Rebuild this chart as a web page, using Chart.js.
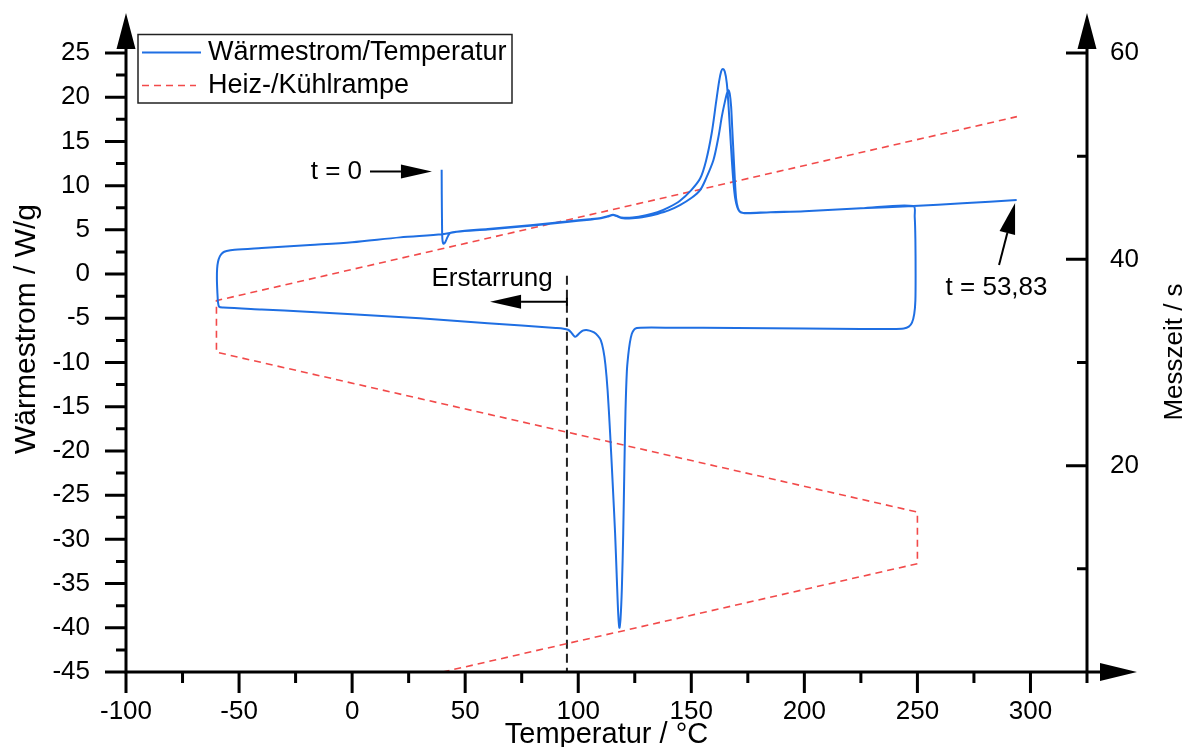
<!DOCTYPE html>
<html>
<head>
<meta charset="utf-8">
<script src="https://cdn.jsdelivr.net/npm/chart.js@4.4.1/dist/chart.umd.min.js"></script>
<style>
  html, body { margin: 0; padding: 0; background: #fff; }
  #wrap { width: 1191px; height: 747px; }
</style>
</head>
<body>
<div id="wrap"><canvas id="dsc" width="1191" height="747"></canvas></div>
<script>
// First heating run, starting at t = 0 (about 40 °C)
const heat1Temp = [39.6, 39.65, 39.75, 39.9, 40.3, 40.9, 41.7, 42.6, 43.6, 46.3, 60, 80, 95, 105, 110, 113, 115.4, 117, 119, 124,
  130, 135, 140, 145, 150, 153.9, 156.5, 159, 161, 162.3, 163.2, 163.9, 164.8, 165.7, 166.5, 167.2, 168.0, 168.7, 169.4, 170.3,
  171.3, 172.5, 175, 185, 200, 225, 248.2];
const heat1Flow = [11.8, 9.0, 6.0, 4.0, 3.45, 3.5, 3.9, 4.4, 4.68, 4.8, 5.1, 5.55, 5.95, 6.2, 6.35, 6.55, 6.72, 6.6, 6.4, 6.4,
  6.65, 7.0, 7.55, 8.3, 9.5, 10.8, 12.8, 15.9, 19.5, 21.8, 22.9, 23.2, 22.9, 21.6, 18.9, 15.9, 12.6, 10.2, 8.6, 7.6,
  7.1, 6.92, 6.9, 7.0, 7.1, 7.43, 7.7];

// Cooling run from 250 °C down to -60 °C, incl. the isothermal hold
const coolTemp = [248.8, 249.1, 249.2, 249.1, 248.6, 247.6, 246.2, 244, 238, 225, 200, 170, 140, 127.5, 125.9, 124.8, 123.7,
  122.8, 122.1, 121.5, 120.9, 120.4, 119.9, 119.3, 118.7, 118.2, 117.7, 117.0, 116.3, 115.2, 114.1, 113.0, 112.0, 111.1,
  110.0, 108.7, 107, 105, 103.5, 102, 100.5, 99.3, 98.6, 97.8, 96.7, 95.5, 93.5, 90, 60, 30, 0, -20, -40, -57, -58.8,
  -59.3, -59.6, -59.8, -59.7, -59.3, -58.5, -57.3, -55.5, -52];
const coolFlow = [6.5, 4.0, 0, -3.0, -4.5, -5.5, -5.95, -6.15, -6.2, -6.2, -6.15, -6.1, -6.06, -6.06, -6.1, -6.25, -6.75,
  -7.8, -9.2, -11.0, -15.5, -22, -29.3, -35.5, -39.0, -40.0, -38.5, -34.0, -29.3, -23.5, -18.0, -13.2, -10.2, -8.6,
  -7.5, -7.0, -6.6, -6.4, -6.33, -6.4, -6.7, -7.0, -7.08, -6.9, -6.55, -6.3, -6.18, -6.1, -5.55, -5.0, -4.55, -4.25, -4.0, -3.78, -3.7,
  -3.2, -2.0, -0.5, 0.6, 1.4, 2.0, 2.4, 2.6, 2.75];

// Second heating run from -60 °C up to the end of the measurement
const heat2Temp = [-40, -18.6, 0, 21.2, 40, 46.3, 60, 80, 95, 105, 110, 113, 115.4, 117, 119, 124, 130, 135, 140, 145, 150,
  153.9, 156.5, 159.8, 162, 163.5, 164.7, 165.7, 166.4, 167, 167.6, 168.1, 168.6, 169.2, 169.8, 170.6, 171.6, 173, 175,
  185, 200, 225, 248.2, 270, 293.9];
const heat2Flow = [2.95, 3.29, 3.6, 4.15, 4.5, 4.78, 5.05, 5.5, 5.9, 6.15, 6.3, 6.5, 6.68, 6.55, 6.35, 6.3, 6.5, 6.8, 7.2, 7.8, 8.6,
  9.5, 10.8, 12.9, 15.5, 17.8, 19.3, 20.4, 20.8, 20.4, 19.0, 16.5, 14.0, 11.0, 8.6, 7.5, 7.05, 6.9, 6.88,
  6.98, 7.1, 7.43, 7.7, 8.0, 8.38];

// Temperature programme: furnace temperature against measuring time
const rampTemp = [40, 250, 250, -60, -60, 294];
const rampTime = [0, 10.5, 15.5, 31, 36, 53.83];

// Solidification marker
const solidTemp = [95, 95];
const solidFlow = [-0.2, -45];

// Tick labels
const tempTicks = [-100, -50, 0, 50, 100, 150, 200, 250, 300];
const flowTicks = [-45, -40, -35, -30, -25, -20, -15, -10, -5, 0, 5, 10, 15, 20, 25];
const timeTicks = [20, 40, 60];

const FONT = "'Liberation Sans', Arial, Helvetica, sans-serif";
const BLUE = '#1f6fe3';
const RED = '#f24a4a';

const toPoints = (xs, ys) => xs.map((v, i) => ({ x: v, y: ys[i] }));
const flowPoints = [
  ...toPoints(heat1Temp, heat1Flow),
  ...toPoints(coolTemp, coolFlow),
  ...toPoints(heat2Temp, heat2Flow)
];

// Text annotations, anchored in data units
const notes = {
  start:  { text: 't = 0', x: 4.4, y: 11.55, tail: [7.9, 11.6], tip: [35.3, 11.6] },
  end:    { text: 't = 53,83', x: 285.0, y: -1.6, tail: [286.1, 1.03], tip: [293.2, 8.04] },
  solid:  { text: 'Erstarrung', x: 61.9, y: -0.55, tail: [95, -3.13], tip: [61.0, -3.13] }
};

function arrow(ctx, x1, y1, x2, y2, len, half) {
  const ang = Math.atan2(y2 - y1, x2 - x1);
  const bx = x2 - Math.cos(ang) * len, by = y2 - Math.sin(ang) * len;
  ctx.beginPath();
  ctx.moveTo(x1, y1);
  ctx.lineTo(bx, by);
  ctx.stroke();
  ctx.beginPath();
  ctx.moveTo(x2, y2);
  ctx.lineTo(bx + Math.sin(ang) * half, by - Math.cos(ang) * half);
  ctx.lineTo(bx - Math.sin(ang) * half, by + Math.cos(ang) * half);
  ctx.closePath();
  ctx.fill();
}

const decor = {
  id: 'decor',
  afterDraw(chart) {
    const { ctx, chartArea: a, scales } = chart;
    const { x, y, y2 } = scales;
    const L = a.left, R = a.right, B = a.bottom, T = a.top;
    ctx.save();
    ctx.strokeStyle = '#000';
    ctx.fillStyle = '#000';

    // axis lines
    ctx.lineWidth = 3;
    ctx.beginPath();
    ctx.moveTo(L, B + 1.5); ctx.lineTo(L, T - 6);
    ctx.moveTo(R, B + 1.5); ctx.lineTo(R, T - 6);
    ctx.moveTo(L - 1.5, B); ctx.lineTo(R + 16, B);
    ctx.stroke();

    // arrow heads at the axis ends
    ctx.beginPath();
    ctx.moveTo(L, T - 40); ctx.lineTo(L - 9.5, T - 4); ctx.lineTo(L + 9.5, T - 4); ctx.closePath();
    ctx.moveTo(R, T - 40); ctx.lineTo(R - 9.5, T - 4); ctx.lineTo(R + 9.5, T - 4); ctx.closePath();
    ctx.moveTo(R + 50, B); ctx.lineTo(R + 13, B - 9); ctx.lineTo(R + 13, B + 9); ctx.closePath();
    ctx.fill();

    // tick marks
    ctx.lineWidth = 3;
    ctx.beginPath();
    tempTicks.forEach(v => { const p = x.getPixelForValue(v); ctx.moveTo(p, B); ctx.lineTo(p, B + 21); });
    for (let v = x.min + 25; v <= x.max + 0.01; v += 50) {
      const p = x.getPixelForValue(v); ctx.moveTo(p, B); ctx.lineTo(p, B + 11);
    }
    flowTicks.forEach(v => { const p = y.getPixelForValue(v); ctx.moveTo(L - 21, p); ctx.lineTo(L, p); });
    for (let v = y.min + 2.5; v < y.max; v += 5) {
      const p = y.getPixelForValue(v); ctx.moveTo(L - 10, p); ctx.lineTo(L, p);
    }
    timeTicks.forEach(v => { const p = y2.getPixelForValue(v); ctx.moveTo(R - 21, p); ctx.lineTo(R, p); });
    for (let v = y2.min + 10; v < y2.max; v += 20) {
      const p = y2.getPixelForValue(v); ctx.moveTo(R - 10, p); ctx.lineTo(R, p);
    }
    ctx.stroke();

    // axis titles
    ctx.textAlign = 'center';
    ctx.textBaseline = 'middle';
    ctx.font = `29px ${FONT}`;
    ctx.fillText('Temperatur / °C', (L + R) / 2, 735);
    ctx.save();
    ctx.translate(27, 329);
    ctx.rotate(-Math.PI / 2);
    ctx.font = `30px ${FONT}`;
    ctx.fillText('Wärmestrom / W/g', 0, 0);
    ctx.restore();
    ctx.save();
    ctx.translate(1175, 352);
    ctx.rotate(-Math.PI / 2);
    ctx.font = `26px ${FONT}`;
    ctx.fillText('Messzeit / s', 0, 0);
    ctx.restore();

    // legend
    const ds = chart.data.datasets;
    ctx.lineWidth = 1.5;
    ctx.strokeStyle = '#222';
    ctx.strokeRect(138, 34.5, 374, 68.5);
    ctx.lineWidth = 2;
    ctx.strokeStyle = ds[0].borderColor;
    ctx.beginPath(); ctx.moveTo(142, 52.5); ctx.lineTo(201, 52.5); ctx.stroke();
    ctx.lineWidth = 1.6;
    ctx.strokeStyle = ds[1].borderColor;
    ctx.setLineDash(ds[1].borderDash);
    ctx.beginPath(); ctx.moveTo(142, 85.5); ctx.lineTo(196, 85.5); ctx.stroke();
    ctx.setLineDash([]);
    ctx.fillStyle = '#000';
    ctx.textAlign = 'left';
    ctx.font = `27px ${FONT}`;
    ctx.fillText(ds[0].label, 208, 53);
    ctx.fillText(ds[1].label, 208, 86);

    // annotations
    ctx.strokeStyle = '#000';
    ctx.fillStyle = '#000';
    ctx.lineWidth = 2;
    ctx.font = `26px ${FONT}`;
    const px = v => x.getPixelForValue(v), py = v => y.getPixelForValue(v);

    let n = notes.start;
    ctx.textAlign = 'right';
    ctx.fillText(n.text, px(n.x), py(n.y));
    arrow(ctx, px(n.tail[0]), py(n.tail[1]), px(n.tip[0]), py(n.tip[1]), 31, 7);

    n = notes.end;
    ctx.textAlign = 'center';
    ctx.fillText(n.text, px(n.x), py(n.y));
    arrow(ctx, px(n.tail[0]), py(n.tail[1]), px(n.tip[0]), py(n.tip[1]), 31, 8);

    n = notes.solid;
    ctx.fillText(n.text, px(n.x), py(n.y));
    arrow(ctx, px(n.tail[0]), py(n.tail[1]), px(n.tip[0]), py(n.tip[1]), 31, 7);
    ctx.beginPath();
    ctx.moveTo(px(n.tail[0]), py(n.tail[1]) - 4);
    ctx.lineTo(px(n.tail[0]), py(n.tail[1]) + 4);
    ctx.stroke();

    ctx.restore();
  }
};

const tickFont = { family: FONT, size: 26 };

new Chart(document.getElementById('dsc'), {
  type: 'scatter',
  data: {
    datasets: [
      {
        label: 'Wärmestrom/Temperatur',
        data: flowPoints,
        showLine: true,
        borderColor: BLUE,
        borderWidth: 2,
        pointRadius: 0,
        tension: 0.3,
        yAxisID: 'y'
      },
      {
        label: 'Heiz-/Kühlrampe',
        data: toPoints(rampTemp, rampTime),
        showLine: true,
        borderColor: RED,
        borderWidth: 1.6,
        borderDash: [7, 5],
        pointRadius: 0,
        tension: 0,
        yAxisID: 'y2'
      },
      {
        label: 'Erstarrung',
        data: toPoints(solidTemp, solidFlow),
        showLine: true,
        borderColor: '#222',
        borderWidth: 2,
        borderDash: [9, 5],
        pointRadius: 0,
        yAxisID: 'y'
      }
    ]
  },
  options: {
    responsive: false,
    animation: false,
    layout: { padding: { top: 53, left: 0, right: 0, bottom: 0 } },
    plugins: { legend: { display: false }, tooltip: { enabled: false } },
    scales: {
      x: {
        type: 'linear', position: 'bottom', min: -100, max: 325,
        afterBuildTicks: s => { s.ticks = tempTicks.map(v => ({ value: v })); },
        afterFit: s => { s.height = 75; },
        grid: { display: false, drawTicks: false },
        border: { display: false },
        ticks: { autoSkip: false, maxRotation: 0, padding: 24, color: '#000', font: tickFont, callback: v => String(v) }
      },
      y: {
        type: 'linear', position: 'left', min: -45, max: 25,
        afterBuildTicks: s => { s.ticks = flowTicks.map(v => ({ value: v })); },
        afterFit: s => { s.width = 126; },
        grid: { display: false, drawTicks: false },
        border: { display: false },
        ticks: { autoSkip: false, padding: 36, color: '#000', font: tickFont, callback: v => String(v) }
      },
      y2: {
        type: 'linear', position: 'right', min: 0, max: 60,
        afterBuildTicks: s => { s.ticks = timeTicks.map(v => ({ value: v })); },
        afterFit: s => { s.width = 104; },
        grid: { display: false, drawTicks: false },
        border: { display: false },
        ticks: { autoSkip: false, padding: 23, color: '#000', font: tickFont, callback: v => String(v) }
      }
    }
  },
  plugins: [decor]
});
</script>
</body>
</html>
